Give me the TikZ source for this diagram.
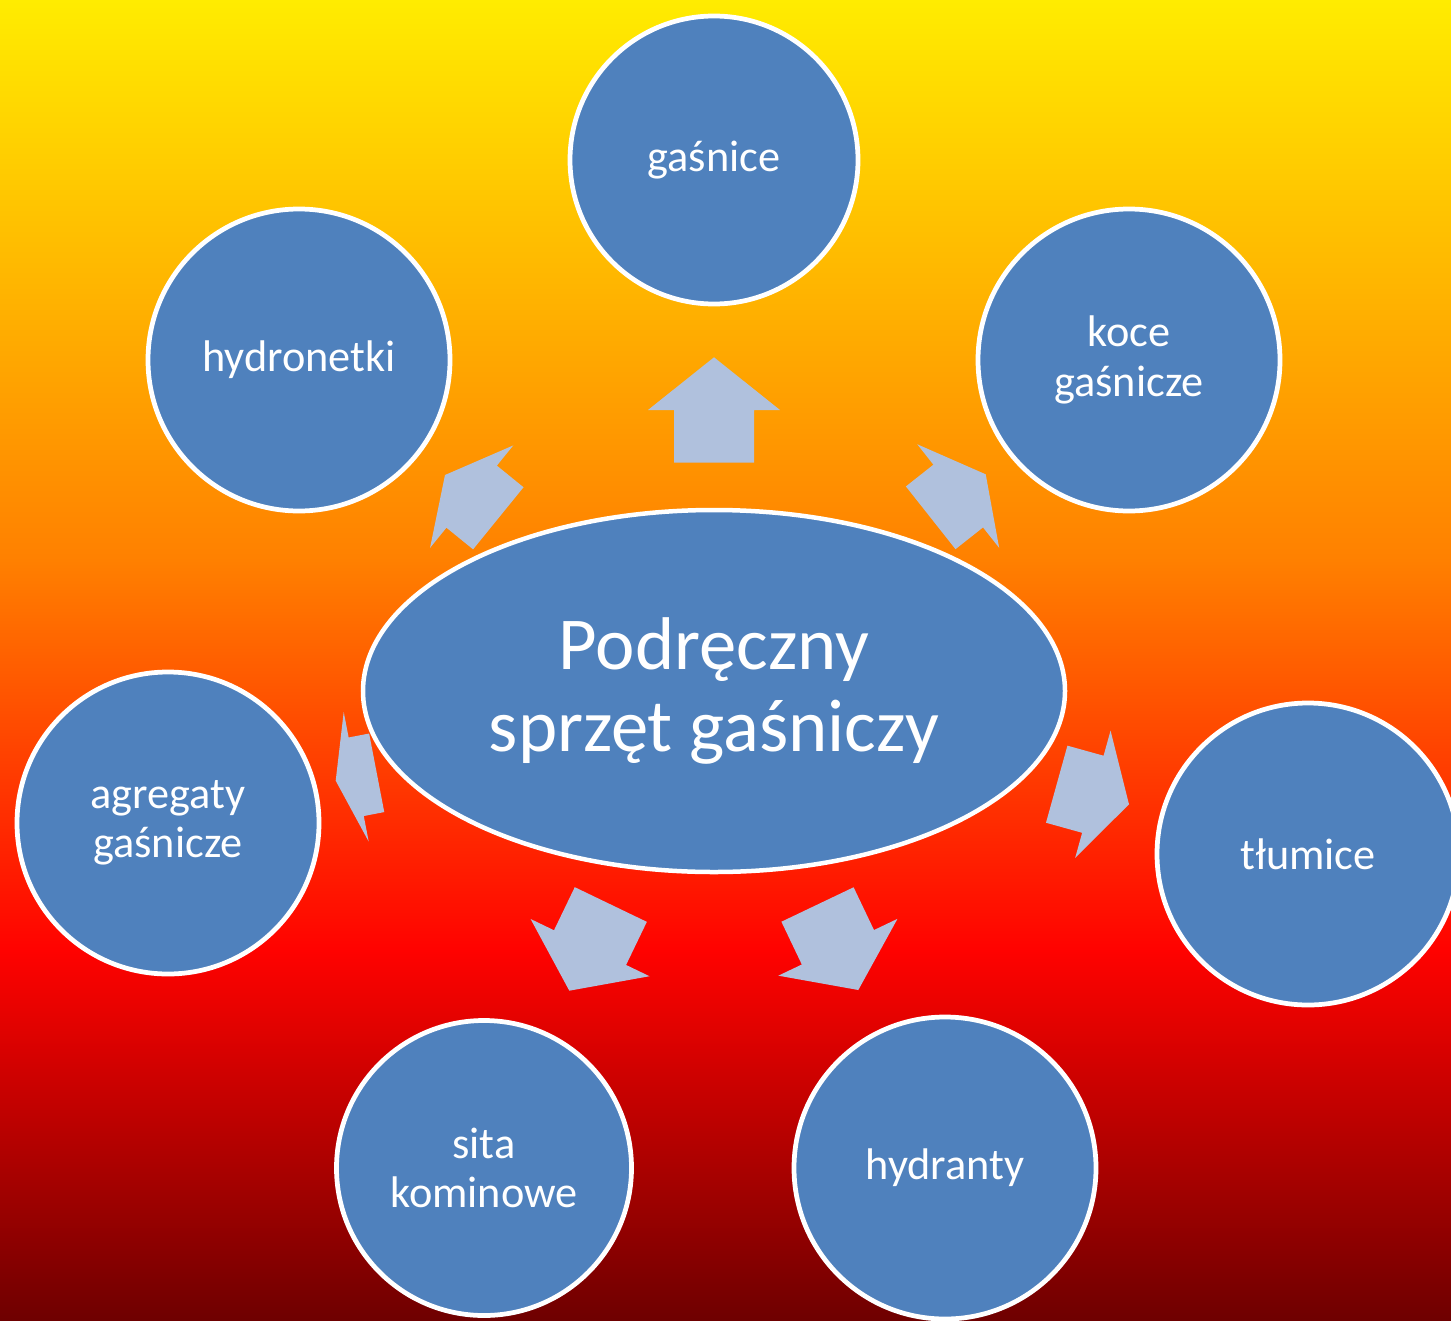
\documentclass[tikz,border=0pt]{standalone}
\usepackage{fontspec}
\setmainfont{Carlito}
\usetikzlibrary{calc,shapes.geometric}
\definecolor{bubbleblue}{RGB}{79,129,189}
\definecolor{arrowgrey}{RGB}{176,193,221}
\definecolor{fireyellow}{RGB}{255,236,0}
\definecolor{fireorange}{RGB}{255,128,0}
\definecolor{firered}{RGB}{255,2,0}
\definecolor{firedark}{RGB}{110,0,0}
\tikzset{
  bubble/.style={circle,draw=white,line width=0.95mm,fill=bubbleblue,text=white,
    minimum size=60.4mm,align=center,font=\fontsize{25.2}{28}\selectfont},
  hub/.style={ellipse,draw=white,line width=0.9mm,fill=bubbleblue,text=white,
    minimum width=140.4mm,minimum height=72.4mm,align=center,font=\fontsize{42.5}{46.7}\selectfont},
}
% block arrow from tail (#1) to tip (#2), head is half the length
\newcommand\firearrow[2]{%
  \path ($(#1)!0.5!(#2)$) coordinate (am);
  \fill[arrowgrey] ($(#1)!8mm!90:(#2)$) -- ($(am)!8mm!90:(#2)$) -- ($(am)!13.2mm!90:(#2)$) -- (#2)
    -- ($(am)!13.2mm!-90:(#2)$) -- ($(am)!8mm!-90:(#2)$) -- ($(#1)!8mm!-90:(#2)$) -- cycle;}
\begin{document}
\begin{tikzpicture}[x=0.2mm,y=-0.2mm]
\useasboundingbox (0,0) rectangle (1451,1321);
% fire background
\shade[top color=fireyellow,bottom color=fireorange] (0,0) rectangle (1451,561);
\shade[top color=fireorange,bottom color=firered] (0,560) rectangle (1451,951);
\shade[top color=firered,bottom color=firedark] (0,950) rectangle (1451,1321);
% arrow ends
\coordinate (up-tail) at (714,462.7);   \coordinate (up-tip) at (714,357.3);
\coordinate (hn-tail) at (498.3,518.3); \coordinate (hn-tip) at (445,475);
\coordinate (kc-tail) at (930.7,517.8); \coordinate (kc-tip) at (985.7,474.3);
\coordinate (ag-tail) at (376.7,772.8); \coordinate (ag-tip) at (335.7,780.7);
\coordinate (tl-tail) at (1056.7,784.2);\coordinate (tl-tip) at (1129,804.3);
\coordinate (st-tail) at (610.8,904.5); \coordinate (st-tip) at (569.3,990.7);
\coordinate (hd-tail) at (817.5,904.5); \coordinate (hd-tip) at (858.3,990);
\foreach \a in {up,hn,kc,ag,tl,st,hd} { \firearrow{\a-tail}{\a-tip} }
% hub and bubbles
\node[hub] (sprzet) at (714,691) {Podręczny\\sprzęt gaśniczy};
\node[bubble,minimum size=57.6mm] (gasnice) at (714,160) {gaśnice};
\node[bubble] (koce) at (1129,360) {koce\\gaśnicze};
\node[bubble] (tlumice) at (1308,854) {tłumice};
\node[bubble] (hydranty) at (945,1168) {hydranty};
\node[bubble,minimum size=59mm] (sita) at (484,1168) {sita\\kominowe};
\node[bubble] (agregaty) at (168,823) {agregaty\\gaśnicze};
\node[bubble] (hydronetki) at (299,360) {hydronetki};
\end{tikzpicture}
\end{document}
